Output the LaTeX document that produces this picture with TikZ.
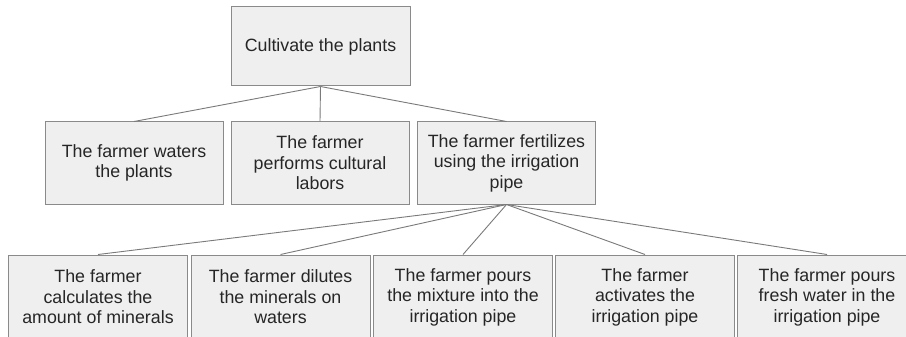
\documentclass[tikz,border=0pt]{standalone}
\usepackage{fontspec}
\setmainfont{Liberation Sans}
\definecolor{boxfill}{HTML}{EFEFEF}
\definecolor{boxline}{HTML}{8A8A8A}
\definecolor{conn}{HTML}{7A7A7A}
\tikzset{
  box/.style={draw=boxline, fill=boxfill, line width=1pt, rectangle, align=center, inner sep=0pt,
    font=\fontsize{17.8}{20.5}\selectfont, text=black!85},
  lvltwo/.style={box, minimum width=178pt, minimum height=82pt},
  lvlthree/.style={box, minimum width=179pt, minimum height=84pt},
  link/.style={draw=conn, line width=0.9pt}
}
\begin{document}
\begin{tikzpicture}[x=1pt,y=-1pt]
\useasboundingbox (0,0) rectangle (906,337);
\clip (0,0) rectangle (906,337);
\fill[white] (0,0) rectangle (906,337);
\node[box, minimum width=179pt, minimum height=79pt] (top) at (320.5,46.5) {Cultivate the plants};
\node[lvltwo] (w) at (134,163) {The farmer waters\\the plants};
\node[lvltwo] (c) at (320,163) {The farmer\\performs cultural\\labors};
\node[lvltwo] (f) at (506.5,163) {The farmer fertilizes\\using the irrigation\\pipe};
\node[lvlthree] (b1) at (98,297) {The farmer\\calculates the\\amount of minerals};
\node[lvlthree] (b2) at (280.5,297) {The farmer dilutes\\the minerals on\\waters};
\node[lvlthree] (b3) at (463,297) {The farmer pours\\the mixture into the\\irrigation pipe};
\node[lvlthree] (b4) at (645,297) {The farmer\\activates the\\irrigation pipe};
\node[lvlthree] (b5) at (827,297) {The farmer pours\\fresh water in the\\irrigation pipe};
\draw[link] (top.south) -- (w.north);
\draw[link] (top.south) -- (c.north);
\draw[link] (top.south) -- (f.north);
\foreach \n in {b1,b2,b3,b4,b5} \draw[link] (f.south) -- (\n.north);
\end{tikzpicture}
\end{document}
